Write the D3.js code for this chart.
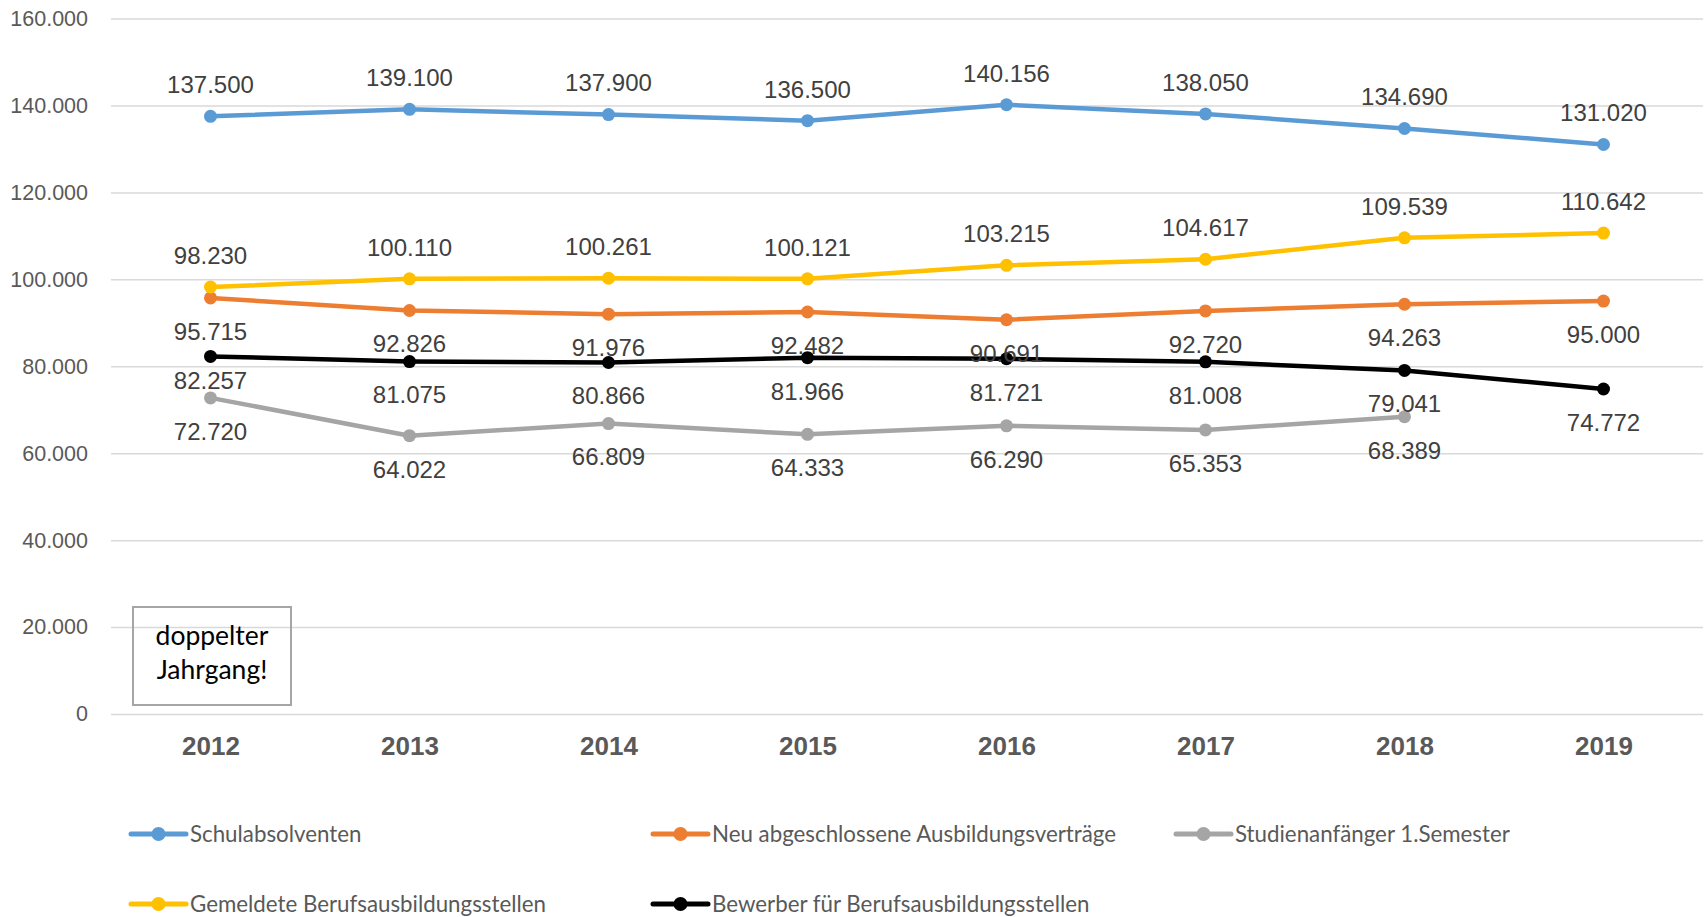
<html>
<head>
<meta charset="utf-8">
<script src="https://d3js.org/d3.v7.min.js"></script>
<style>
  body { margin: 0; background: #fff; }
  .grid line { stroke: #d9d9d9; stroke-width: 1.5; }
  .grid text { font-family: "Liberation Sans", Arial, sans-serif; font-size: 21.5px; fill: #595959; }
  .xaxis text { font-family: "Liberation Sans", Arial, sans-serif; font-size: 26px; font-weight: bold; fill: #595959; }
  .lbl { font-family: "Liberation Sans", Arial, sans-serif; font-size: 24px; fill: #404040; }
  .leg { font-family: Lato, "Open Sans", sans-serif; font-size: 22.3px; fill: #595959; }
</style>
</head>
<body>
<svg width="1708" height="917"></svg>
<script>
// data
var years = ["2012", "2013", "2014", "2015", "2016", "2017", "2018", "2019"];
var yTicks = [0, 20000, 40000, 60000, 80000, 100000, 120000, 140000, 160000];

var schulabsolventen = [137500, 139100, 137900, 136500, 140156, 138050, 134690, 131020];
var neuVertraege     = [95715, 92826, 91976, 92482, 90691, 92720, 94263, 95000];
var studienanfaenger = [72720, 64022, 66809, 64333, 66290, 65353, 68389, null];
var gemeldeteStellen = [98230, 100110, 100261, 100121, 103215, 104617, 109539, 110642];
var bewerber         = [82257, 81075, 80866, 81966, 81721, 81008, 79041, 74772];

var series = [
  {name: "Schulabsolventen", values: schulabsolventen, color: "#5b9bd5", pos: "above"},
  {name: "Neu abgeschlossene Ausbildungsverträge", values: neuVertraege, color: "#ed7d31", pos: "below"},
  {name: "Studienanfänger 1.Semester", values: studienanfaenger, color: "#a5a5a5", pos: "below"},
  {name: "Gemeldete Berufsausbildungsstellen", values: gemeldeteStellen, color: "#ffc000", pos: "above"},
  {name: "Bewerber für Berufsausbildungsstellen", values: bewerber, color: "#000000", pos: "below"}
];

var de = d3.formatLocale({decimal: ",", thousands: ".", grouping: [3], currency: ["", " €"]});
var fmt = de.format(",.0f");

var plotL = 111, plotR = 1703, plotT = 18.5, plotB = 714;

var svg = d3.select("svg");

var x = d3.scalePoint().domain(years).range([plotL, plotR]).padding(0.5);
var y = d3.scaleLinear().domain([0, 160000]).range([plotB, plotT]);

// gridlines + y labels
var grid = svg.append("g").attr("class", "grid")
  .attr("transform", "translate(" + plotL + ",0)")
  .call(d3.axisLeft(y).tickValues(yTicks).tickFormat(fmt).tickSize(-(plotR - plotL)).tickPadding(23));
grid.select(".domain").remove();

// x labels
var xa = svg.append("g").attr("class", "xaxis")
  .attr("transform", "translate(0," + plotB + ")")
  .call(d3.axisBottom(x).tickSize(0).tickPadding(23));
xa.select(".domain").remove();

// box annotation
svg.append("rect").attr("x", 133).attr("y", 607).attr("width", 158).attr("height", 98)
  .attr("fill", "none").attr("stroke", "#a6a6a6").attr("stroke-width", 2);
svg.append("text").attr("x", 212).attr("y", 636).attr("dy", "0.35em").attr("text-anchor", "middle")
  .style("font-family", "Lato, sans-serif").style("font-size", "26.5px").style("fill", "#000")
  .text("doppelter");
svg.append("text").attr("x", 212).attr("y", 670).attr("dy", "0.35em").attr("text-anchor", "middle")
  .style("font-family", "Lato, sans-serif").style("font-size", "26.5px").style("fill", "#000")
  .text("Jahrgang!");

var line = d3.line()
  .defined(function(d) { return d != null; })
  .x(function(d, i) { return x(years[i]); })
  .y(function(d) { return y(d); });

series.forEach(function(s) {
  var g = svg.append("g");
  g.append("path").datum(s.values).attr("d", line)
    .attr("fill", "none").attr("stroke", s.color).attr("stroke-width", 4.5)
    .attr("stroke-linejoin", "round");
  var pts = s.values.map(function(v, i) { return {v: v, i: i}; }).filter(function(d) { return d.v != null; });
  g.selectAll("circle").data(pts).enter().append("circle")
    .attr("cx", function(d) { return x(years[d.i]); })
    .attr("cy", function(d) { return y(d.v); })
    .attr("r", 6.5).attr("fill", s.color);
  s.pts = pts;
});

// data labels
series.forEach(function(s) {
  svg.append("g").selectAll("text").data(s.pts).enter().append("text")
    .attr("class", "lbl")
    .attr("text-anchor", "middle")
    .attr("x", function(d) { return x(years[d.i]); })
    .attr("y", function(d) {
      var off = s.pos == "above" ? -31.5 : 33.5;
      if (s.values === bewerber && d.i == 0) off = 24; // label was nudged up in original
      return y(d.v) + off;
    })
    .attr("dy", "0.35em")
    .text(function(d) { return fmt(d.v); });
});

// legend
var legPos = [[131, 834], [653, 834], [1176, 834], [131, 904], [653, 904]];
series.forEach(function(s, i) {
  var p = legPos[i];
  var g = svg.append("g").attr("transform", "translate(" + p[0] + "," + p[1] + ")");
  g.append("line").attr("x1", 0).attr("x2", 55).attr("y1", 0).attr("y2", 0)
    .attr("stroke", s.color).attr("stroke-width", 5).attr("stroke-linecap", "round");
  g.append("circle").attr("cx", 27.5).attr("cy", 0).attr("r", 7).attr("fill", s.color);
  g.append("text").attr("class", "leg").attr("x", 59).attr("y", 0).attr("dy", "0.35em").text(s.name);
});
</script>
</body>
</html>
